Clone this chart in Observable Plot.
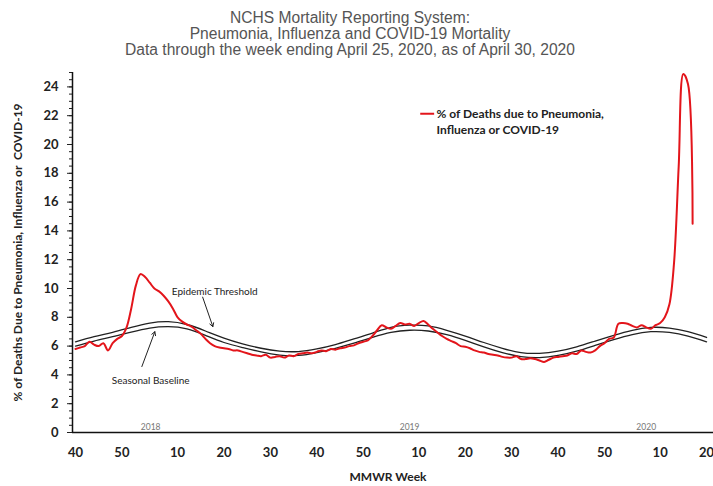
<!DOCTYPE html>
<html><head><meta charset="utf-8">
<script src="https://cdn.jsdelivr.net/npm/d3@7"></script>
<script src="https://cdn.jsdelivr.net/npm/@observablehq/plot@0.6"></script>
<style>
body{margin:0;background:#fff;}
#title{width:700px;text-align:center;font-family:"Liberation Sans",Arial,sans-serif;color:#555;font-size:15.6px;line-height:16px;padding-top:10px;height:52px;}
#chart svg{display:block;}
</style></head><body>
<div id="title">NCHS Mortality Reporting System:<br>Pneumonia, Influenza and COVID-19 Mortality<br>Data through the week ending April 25, 2020, as of April 30, 2020</div>
<div id="chart"></div>
<script>
// Week index 0 = MMWR week 40 of 2017
const pctDeaths = [
 5.8,5.9,6.0,6.3,6.1,6.0,6.2,5.7,6.2,6.5,6.7,7.3,8.6,10.2,11.0,10.8,10.4,10.0,9.8,9.5,
 9.1,8.6,8.0,7.7,7.5,7.35,7.1,6.85,6.5,6.2,6.0,5.9,5.85,5.8,5.7,5.7,5.6,
 5.5,5.4,5.35,5.3,5.4,5.2,5.25,5.3,5.2,5.35,5.3,5.45,5.5,5.55,5.5,5.6,5.7,5.65,5.8,5.75,
 5.85,5.9,6.0,6.05,6.2,6.3,6.4,6.7,7.1,7.45,7.3,7.2,7.4,7.6,7.5,7.55,7.4,7.6,7.75,7.5,
 7.2,6.95,6.7,6.5,6.35,6.2,6.0,5.95,5.85,5.7,5.6,5.55,5.45,5.4,5.35,5.25,5.2,5.2,5.3,5.1,
 5.1,5.15,5.1,5.0,4.9,5.05,5.2,5.25,5.3,5.35,5.5,5.45,5.7,5.6,5.55,5.7,6.0,6.2,6.5,6.6,
 7.55,7.6,7.55,7.4,7.3,7.45,7.3,7.2,7.45,7.6,8.0,8.9,11.8,18.5,24.9,24.2,14.5
];
const curveWeeks = [0,4,8,12,16,20,24,28,32,36,40,44,48,52,56,60,64,68,72,76,80,84,88,92,96,100,104,108,112,116,120,124,128,132,136];
const baseline = [6.0,6.35,6.65,6.97,7.25,7.35,7.2,6.75,6.25,5.9,5.6,5.38,5.35,5.55,5.85,6.2,6.6,6.95,7.1,7.05,6.8,6.4,5.95,5.55,5.27,5.2,5.35,5.65,6.05,6.45,6.8,7.0,6.95,6.7,6.3];
const threshold = [6.3,6.65,6.95,7.3,7.6,7.7,7.5,7.05,6.55,6.15,5.85,5.65,5.62,5.8,6.1,6.5,6.9,7.3,7.45,7.4,7.1,6.7,6.25,5.85,5.55,5.5,5.65,5.95,6.35,6.75,7.1,7.3,7.25,7.0,6.6];

const xTickPositions = [0,10,22,32,42,52,62,74,84,94,104,114,126,136];
const xTickLabels = ["40","50","10","20","30","40","50","10","20","30","40","50","10","20"];
const yTicks = [0,2,4,6,8,10,12,14,16,18,20,22,24];
const yearLabels = ["2018","2019","2020"];
const yearPositions = [16.2,72,123];

const seriesName = "% of Deaths due to Pneumonia,\nInfluenza or COVID-19";
const yLabel = "% of Deaths Due to Pneumonia, Influenza or  COVID-19";
const xLabel = "MMWR Week";
const annotations = [{label:"Epidemic Threshold", x:30, y:9.8},{label:"Seasonal Baseline", x:16.2, y:3.56}];
const arrows = [{x1:27.4,y1:9.4,x2:29.6,y2:7.35},{x1:14.3,y1:4.58,x2:17.1,y2:7.0}];
const legendPos = {x1:74.4, x2:77.4, xt:77.8, y:21.65};

const red = pctDeaths.map((v,i)=>({w:i,v}));
const base = curveWeeks.map((w,i)=>({w,v:baseline[i]}));
const thr = curveWeeks.map((w,i)=>({w,v:threshold[i]}));
const years = yearLabels.map((t,i)=>({t,w:yearPositions[i]}));
const xLab = new Map(xTickPositions.map((p,i)=>[p,xTickLabels[i]]));
const minor = d3.range(0,25.01,0.5);

const chart = Plot.plot({
  width:713, height:424,
  marginTop:10, marginBottom:54, marginLeft:72, marginRight:0,
  x:{domain:[-0.65,137.5], axis:null},
  y:{domain:[0,25], axis:null},
  style:{fontFamily:"Lato, sans-serif", background:"white", overflow:"visible"},
  marks:[
    Plot.axisY(minor, {tickSize:3, tickFormat:()=>"", label:null, stroke:"#222"}),
    Plot.axisY(yTicks, {tickSize:5, tickPadding:9, label:null, fontSize:13, fontWeight:"bold", fill:"#222", stroke:"#222"}),
    Plot.axisX(xTickPositions, {tickSize:0, tickPadding:15, tickFormat:d=>xLab.get(d), label:null, fontSize:13, fontWeight:"bold", fill:"#222"}),
    Plot.ruleY([0], {stroke:"#111", strokeWidth:1.5}),
    Plot.ruleX([-0.65], {stroke:"#111", strokeWidth:1.5}),
    Plot.line(thr, {x:"w", y:"v", curve:"natural", stroke:"#222", strokeWidth:1.3}),
    Plot.line(base, {x:"w", y:"v", curve:"natural", stroke:"#222", strokeWidth:1.3}),
    Plot.line(red, {x:"w", y:"v", curve:"catmull-rom", stroke:"#e3151b", strokeWidth:2}),
    Plot.text(years, {x:"w", y:0, text:"t", dy:-5, fontSize:8.5, fill:"#777"}),
    Plot.text(annotations, {x:"x", y:"y", text:"label", fontSize:10, fill:"#222"}),
    Plot.arrow(arrows, {x1:"x1", y1:"y1", x2:"x2", y2:"y2", stroke:"#222", strokeWidth:1, headLength:6}),
    Plot.ruleY([legendPos.y], {x1:legendPos.x1, x2:legendPos.x2, dy:-7, stroke:"#e3151b", strokeWidth:2}),
    Plot.text([seriesName], {x:legendPos.xt, y:legendPos.y, textAnchor:"start", lineAnchor:"middle", lineHeight:1.3, fontSize:12, fontWeight:"bold", fill:"#222"}),
    Plot.text([yLabel], {frameAnchor:"left", textAnchor:"middle", dx:-54, rotate:-90, fontSize:12, fontWeight:"bold", fill:"#222"}),
    Plot.text([xLabel], {frameAnchor:"bottom", dx:-5, dy:45, lineAnchor:"middle", fontSize:12, fontWeight:"bold", fill:"#222"})
  ]
});
document.getElementById("chart").appendChild(chart);
</script></body></html>
